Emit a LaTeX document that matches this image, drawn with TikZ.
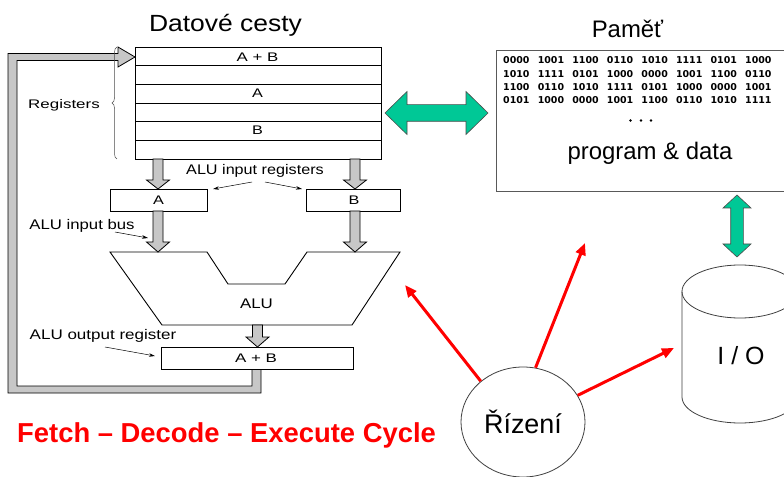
\documentclass[tikz,border=0pt]{standalone}
\usepackage{fontspec}
\setmainfont{Liberation Sans}
\newfontfamily\digitfont{DejaVu Sans}
\usepackage{graphicx}
\usetikzlibrary{arrows.meta,shapes.geometric,decorations.pathreplacing}

\definecolor{arrowgreen}{RGB}{0,200,150}
\newcommand\fs[1]{\fontsize{#1}{#1}\selectfont}
\newcommand\wide[2]{\scalebox{#1}[1]{#2}}

\tikzset{
  lbl/.style={inner sep=0pt, anchor=base},
  box/.style={draw, line width=0.9bp, inner sep=0pt, anchor=north west},
  bus/.style={fill=black!22, draw=black, line width=0.8bp, line join=miter},
  callout/.style={line width=0.5bp, -{Stealth[length=6bp,width=3.5bp]}},
  ctrl/.style={red, line width=3bp, -{Triangle[length=12bp,width=10bp]}},
  greenarrow/.style={fill=arrowgreen, draw=black!70, line width=0.6bp, line join=miter},
  thinshape/.style={draw=black!75, line width=0.8bp},
}

% vertical bus arrow: centre x, top, head base, tip
\newcommand\busdown[4]{%
  \draw[bus] (#1-5,#2) -- (#1-5,#3) -- (#1-11.5,#3) -- (#1,#4) -- (#1+11.5,#3)
    -- (#1+5,#3) -- (#1+5,#2) -- cycle;}

\begin{document}
\begin{tikzpicture}[x=1bp,y=-1bp]
\clip (0,0) rectangle (784,477);
\fill[white] (0,0) rectangle (784,477);

% ---------- data path ----------
\node[lbl] (dtitle) at (225.5,31.7) {\fs{23.5}\wide{1.13}{Datové cesty}};

% feedback bus from the output register back to the register file
\draw[bus] (261,369) -- (261,393) -- (8,393) -- (8,53.5) -- (118,53.5) -- (118,47)
  -- (135,57) -- (118,67) -- (118,60.5) -- (17,60.5) -- (17,386) -- (252,386)
  -- (252,369) -- cycle;

% register file
\node[box, fill=white, minimum width=246bp, minimum height=112bp] (rf) at (135,47) {};
\foreach \yy in {65.7,84.3,103,121.7,140.3}
  \draw[line width=0.9bp] (rf.west |- 0,\yy) -- (rf.east |- 0,\yy);
\node[lbl] (rab) at (257.5,61.7) {\fs{12.5}\wide{1.35}{A + B}};
\node[lbl] (ra)  at (257.5,97.3) {\fs{12.5}\wide{1.3}{A}};
\node[lbl] (rb)  at (257.5,135)  {\fs{12.5}\wide{1.3}{B}};

% registers brace
\draw[black!70, line width=0.5bp, decorate, decoration={brace, amplitude=5bp}]
  (117,159) -- (117,47);
\node[lbl] (regs) at (64,109) {\fs{12.5}\wide{1.36}{Registers}};

% ALU input registers
\node[box, minimum width=97bp, minimum height=22bp] (ina) at (110,189) {};
\node[box, minimum width=94bp, minimum height=22bp] (inb) at (306,189) {};
\node[lbl] (ta) at (158.5,205) {\fs{12.5}\wide{1.3}{A}};
\node[lbl] (tb) at (354,205)   {\fs{12.5}\wide{1.3}{B}};
\node[lbl] (lir) at (255,175) {\fs{14}\wide{1.16}{ALU input registers}};
\coordinate (lirl) at (252,182);
\coordinate (lirr) at (265,182);
\draw[callout] (lirl) -- (ina.north east -| 213,0);
\draw[callout] (lirr) -- (inb.north west -| 302,0);

% buses from the register file
\busdown{158}{159}{180}{189}
\busdown{355}{159}{180}{189}

% ALU
\coordinate (alu1) at (110,252);
\coordinate (alu2) at (207,252);
\coordinate (alu3) at (228,284);
\coordinate (alu4) at (285,284);
\coordinate (alu5) at (307,252);
\coordinate (alu6) at (400,252);
\coordinate (alu7) at (352,325);
\coordinate (alu8) at (162,325);
\draw[line width=0.9bp, line join=miter] (alu1) -- (alu2) -- (alu3) -- (alu4)
  -- (alu5) -- (alu6) -- (alu7) -- (alu8) -- cycle;
\node[lbl] (alu) at (256.5,308.3) {\fs{14}\wide{1.21}{ALU}};

\busdown{158}{211}{242}{252}
\busdown{355}{211}{242}{252}
\node[lbl] (lib) at (82,230) {\fs{14}\wide{1.2}{ALU input bus}};
\coordinate (libs) at (115,232);
\coordinate (libe) at (148,238);
\draw[callout] (libs) -- (libe);

% output register
\busdown{257.5}{325}{337}{347}
\node[box, fill=white, minimum width=192bp, minimum height=22bp] (out) at (161,347) {};
\node[lbl] (tout) at (256,362.3) {\fs{12.5}\wide{1.36}{A + B}};
\node[lbl] (lor) at (103,339) {\fs{14}\wide{1.22}{ALU output register}};
\coordinate (lors) at (105,347);
\coordinate (lore) at (155,356);
\draw[callout] (lors) -- (lore);

% cycle caption
\node[lbl, anchor=base west, text=red] (cycle) at (17,442)
  {\fs{27.5}\bfseries Fetch – Decode – Execute Cycle};

% ---------- memory ----------
\node[lbl] (mtitle) at (627.5,37.3) {\fs{24}Paměť};
\node[box, draw=black!65, line width=1bp, minimum width=320bp, minimum height=141bp] (mem) at (496,50) {};
\foreach \row [count=\r] in {
  {0000,1001,1100,0110,1010,1111,0101,1000},
  {1010,1111,0101,1000,0000,1001,1100,0110},
  {1100,0110,1010,1111,0101,1000,0000,1001},
  {0101,1000,0000,1001,1100,0110,1010,1111}}
  \foreach \g [count=\c] in \row
    \node[lbl, anchor=base west] (b\r-\c) at ({503+34.57*(\c-1)},{50.6+13.35*\r})
      {\digitfont\fs{9.5}\bfseries \g};
\foreach \dx [count=\d] in {630.5,641,651}
  \fill (\dx,120.5) circle[radius=1.3] coordinate (dot\d);
\node[lbl] (pd) at (650,160) {\fs{24}program \& data};

% register file <-> memory
\draw[greenarrow] (385,113) -- (407,91.5) -- (407,104.7) -- (466,104.7) -- (466,91.5)
  -- (488,113) -- (466,134.5) -- (466,121.3) -- (407,121.3) -- (407,134.5) -- cycle;

% memory <-> I/O
\draw[greenarrow] (737,195) -- (751,208) -- (743.3,208) -- (743.3,244) -- (751,244)
  -- (737,257) -- (723,244) -- (730.7,244) -- (730.7,208) -- (723,208) -- cycle;

% ---------- I/O ----------
\draw[thinshape, fill=white] (682,291.5) -- (682,397)
  arc[start angle=180, end angle=0, x radius=58, y radius=26] -- (798,291.5);
\draw[thinshape] (740,291.5) ellipse [x radius=58, y radius=26.5];
\node[lbl] (io) at (741,364) {\fs{25}I / O};

% ---------- control ----------
\node[ellipse, thinshape, fill=white, minimum width=124bp, minimum height=110bp, inner sep=0pt]
  (riz) at (523,422) {\fs{27}Řízení};
\coordinate (t1) at (405,285);
\coordinate (t2) at (585,243);
\coordinate (t3) at (674,348);
\draw[ctrl] (riz.136) -- (t1);
\draw[ctrl] (riz.77) -- (t2);
\draw[ctrl] (riz.26) -- (t3);
\end{tikzpicture}
\end{document}
